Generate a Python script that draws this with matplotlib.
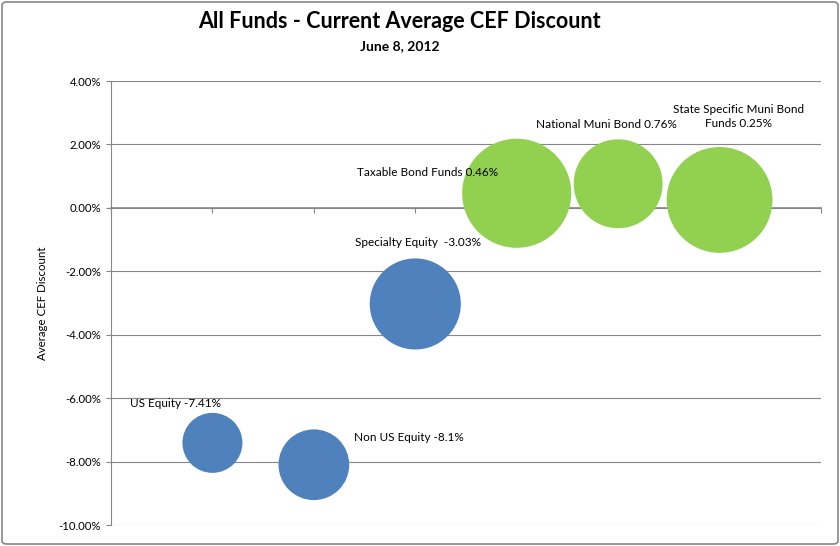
import matplotlib
matplotlib.use("Agg")
from matplotlib import pyplot as plt
from matplotlib.patches import FancyBboxPatch
from matplotlib.ticker import FuncFormatter, MultipleLocator

# Fund groups (x position = order in the list)
funds = ["US Equity", "Non US Equity", "Specialty Equity",
         "Taxable Bond Funds", "National Muni Bond", "State Specific Muni Bond Funds"]
discount = [-7.41, -8.1, -3.03, 0.46, 0.76, 0.25]
bubble_size = [36, 50, 83, 119, 79, 112]
labels = ["US Equity -7.41%", "Non US Equity -8.1%", "Specialty Equity  -3.03%",
          "Taxable Bond Funds 0.46%", "National Muni Bond 0.76%",
          "State Specific Muni Bond\nFunds 0.25%"]
colors = ["#4F81BD", "#4F81BD", "#4F81BD", "#92D050", "#92D050", "#92D050"]

# label offsets (points) and alignment
offsets = [(-26.6, 28.4), (28.8, 19.4), (2.2, 43.9), (-64, 15.1), (-8.6, 42.8), (13.7, 60.1)]
aligns = ["center", "left", "center", "center", "center", "center"]

plt.rcParams["font.family"] = ["Lato", "DejaVu Sans"]
grey = "#868686"

fig = plt.figure(figsize=(8.4, 5.46), dpi=100)
ax = fig.add_axes([111 / 840, 21 / 546, 710 / 840, 444 / 546])

xs = list(range(1, len(funds) + 1))
ax.scatter(xs, discount, s=[b * 51.84 for b in bubble_size], c=colors,
           edgecolors="none", zorder=3)

for x, y, txt, off, ha in zip(xs, discount, labels, offsets, aligns):
    ax.annotate(txt, xy=(x, y), xytext=off, textcoords="offset points",
                ha=ha, va="center", fontsize=8.5, color="black",
                multialignment="center", linespacing=1.3, zorder=4)

ax.set_xlim(0, 7)
ax.set_ylim(-10, 4)
ax.yaxis.set_major_locator(MultipleLocator(2))
ax.yaxis.set_major_formatter(FuncFormatter(lambda v, p: f"{v:.2f}%"))
ax.xaxis.set_major_locator(MultipleLocator(1))
ax.set_xticklabels([])

ax.grid(axis="y", color=grey, linewidth=0.8)
ax.set_axisbelow(True)
for s in ["top", "right"]:
    ax.spines[s].set_visible(False)
ax.spines["bottom"].set_position(("data", 0))
ax.spines["bottom"].set_color(grey)
ax.spines["bottom"].set_linewidth(1.2)
ax.spines["left"].set_color(grey)
ax.spines["left"].set_linewidth(0.8)
ax.tick_params(axis="both", colors=grey, length=3.6, width=0.8, labelsize=8.2,
               labelcolor="black")

fig.text(399.5 / 840, 1 - 22 / 546, "All Funds - Current Average CEF Discount",
         ha="center", va="center", fontsize=15.5, fontweight="bold")
fig.text(399.5 / 840, 1 - 46 / 546, "June 8, 2012",
         ha="center", va="center", fontsize=10, fontweight="bold")
fig.text(43 / 840, 1 - 303 / 546, "Average CEF Discount", rotation=90,
         ha="center", va="center", fontsize=8.3)

# chart area border
fig.patches.append(FancyBboxPatch((2 / 840, 2 / 546), 836 / 840, 542 / 546,
                                  boxstyle="round,pad=0,rounding_size=0.006",
                                  transform=fig.transFigure, fill=False,
                                  edgecolor=grey, linewidth=1.2))

fig.savefig("out.png", dpi=100)
